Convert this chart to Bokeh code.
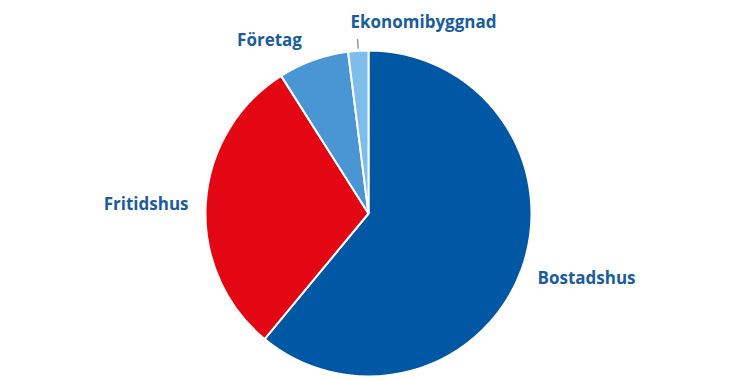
import numpy as np
from bokeh.plotting import figure
from bokeh.models import Range1d, ColumnDataSource
from bokeh.core.properties import value
from bokeh.embed import file_html
from bokeh.resources import INLINE

categories = ["Bostadshus", "Fritidshus", "Företag", "Ekonomibyggnad"]
shares = [61, 30, 7, 2]
colors = ["#0057a3", "#e30613", "#4a95d3", "#7cbde9"]

W, H = 730, 380
p = figure(width=W, height=H, output_backend="svg", toolbar_location=None,
           x_range=Range1d(0, W), y_range=Range1d(0, H), min_border=0)
p.axis.visible = False
p.grid.visible = False
p.outline_line_color = None
p.background_fill_color = "white"
p.border_fill_color = "white"

cx, cy, r = 368, 167, 163
vals = np.array(shares, dtype=float)
frac = vals / vals.sum() * 2 * np.pi
ends = np.cumsum(frac)
starts = ends - frac
src = ColumnDataSource(dict(cat=categories, start=np.pi / 2 - starts, end=np.pi / 2 - ends,
                            color=colors))
p.wedge(x=cx, y=cy, radius=r, start_angle="start", end_angle="end", direction="clock",
        fill_color="color", line_color="white", line_width=2, source=src)

# leader for the small slice
mid = np.pi / 2 - (starts[3] + ends[3]) / 2
p.segment(x0=[cx + (r + 2) * np.cos(mid)], y0=[cy + (r + 2) * np.sin(mid)],
          x1=[cx + (r + 12) * np.cos(mid)], y1=[cy + (r + 12) * np.sin(mid)],
          line_color="#999999", line_width=1.5)

lab_x = [537, 188, 269, 423]
lab_y = [103, 177, 341, 359]
align = ["left", "right", "center", "center"]
lsrc = ColumnDataSource(dict(x=lab_x, y=lab_y, t=categories, a=align))
p.text(x="x", y="y", text="t", text_align="a", text_baseline="middle",
       text_font=value("Open Sans"), text_font_style="bold", text_font_size="17px",
       text_color="#1a5c9e", source=lsrc)

open("out.html", "w").write(file_html(p, INLINE))
